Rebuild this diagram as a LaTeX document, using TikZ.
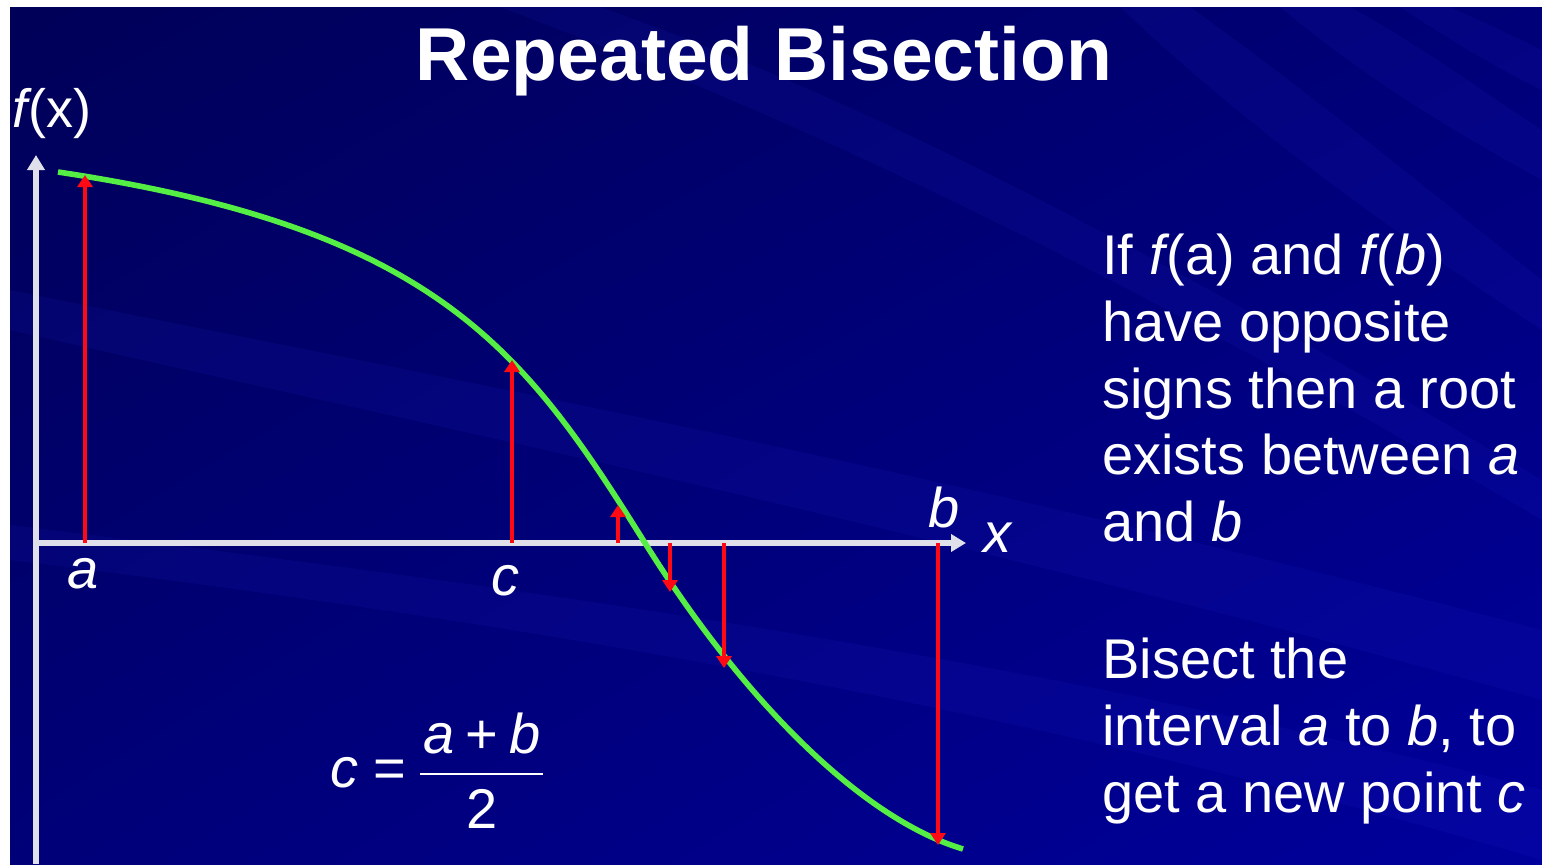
\documentclass[tikz,border=0pt]{standalone}
\usepackage{fontspec}
\setmainfont{Liberation Sans}
\usetikzlibrary{arrows.meta, shadings}
\definecolor{curvegreen}{HTML}{55EE44}
\definecolor{axisgrey}{HTML}{E0E0EA}
\definecolor{probered}{HTML}{FF0A14}
\definecolor{streakblue}{HTML}{3030E0}
\definecolor{bgdark}{HTML}{000058}
\definecolor{bgmid}{HTML}{000078}
\definecolor{bglight}{HTML}{00009C}

\begin{document}
\begin{tikzpicture}[x=0.5pt, y=-0.5pt,
  axis/.style={draw=axisgrey, line width=3pt, -{Triangle[length=7.5pt, width=8.5pt]}},
  probe/.style={draw=probered, line width=2pt, -{Triangle[length=6pt, width=7.5pt]}},
  curve/.style={draw=curvegreen, line width=2.8pt},
  lbl/.style={text=white, font=\fontsize{28}{33}\selectfont\itshape, inner sep=0pt, anchor=base},
  body/.style={text=white, font=\fontsize{28}{33.3}\selectfont, align=left, inner sep=0pt, anchor=north west},
  streak/.style={fill=streakblue, opacity=0.10},
]
\useasboundingbox (0,0) rectangle (1542,864);
\fill[white] (0,0) rectangle (1542,864);
% background
\shade[upper left=bgdark, upper right=bgmid, lower left=bgmid, lower right=bglight]
  (10,7) rectangle (1542,864);
\begin{scope}
\clip (10,7) rectangle (1542,864);
\fill[streak] (1120,7) .. controls (1260,140) and (1420,250) .. (1542,330)
  -- (1542,280) .. controls (1440,200) and (1320,100) .. (1190,7) -- cycle;
\fill[streak] (1280,7) .. controls (1380,90) and (1470,140) .. (1542,180)
  -- (1542,130) .. controls (1480,90) and (1420,45) .. (1350,7) -- cycle;
\fill[streak] (1400,7) .. controls (1450,40) and (1500,70) .. (1542,90)
  -- (1542,50) .. controls (1510,35) and (1480,20) .. (1450,7) -- cycle;
\fill[streak] (10,330) .. controls (400,420) and (900,520) .. (1542,700)
  -- (1542,630) .. controls (900,460) and (400,370) .. (10,290) -- cycle;
\fill[streak] (10,560) .. controls (500,620) and (1000,700) .. (1542,860)
  -- (1542,790) .. controls (1000,650) and (500,585) .. (10,525) -- cycle;
\fill[streak] (500,7) .. controls (800,120) and (1100,260) .. (1542,520)
  -- (1542,480) .. controls (1100,220) and (850,95) .. (600,7) -- cycle;
\end{scope}

% title
\node[text=white, font=\fontsize{37.5}{40}\selectfont\bfseries, anchor=base] (title) at (764,80) {Repeated Bisection};

% axes
\coordinate (origin) at (36,543);
\coordinate (ybot) at (36,864);
\coordinate (ytop) at (36,155);
\coordinate (xend) at (966,543);
\draw[axis] (ybot) -- (ytop);
\draw[axis] (origin) -- (xend);
\node[text=white, font=\fontsize{27}{33}\selectfont, inner sep=0pt, anchor=base west] (fx) at (12,127) {\textit{f}\kern-2pt(x)};
\node[lbl] (xlbl) at (997,552) {x};

% function
\coordinate (root) at (645,543);
\draw[curve] (58,172) .. controls (438,229) and (525,351) .. (root)
  .. controls (745,703) and (863,819) .. (963,849);

% bisection probes
\coordinate (pa) at (85,543);   \coordinate (fa) at (85,175);
\coordinate (pc1) at (512,543); \coordinate (fc1) at (512,360);
\coordinate (pc2) at (618,543); \coordinate (fc2) at (618,505);
\coordinate (pc3) at (670,543); \coordinate (fc3) at (670,592);
\coordinate (pc4) at (724,543); \coordinate (fc4) at (724,668);
\coordinate (pb) at (938,543);  \coordinate (fb) at (938,845);
\draw[probe] (pa) -- (fa);
\draw[probe] (pc1) -- (fc1);
\draw[probe] (pc2) -- (fc2);
\draw[probe] (pc3) -- (fc3);
\draw[probe] (pc4) -- (fc4);
\draw[probe] (pb) -- (fb);

\node[lbl] (alb) at (83,588) {a};
\node[lbl] (clb) at (505,595) {c};
\node[lbl] (blb) at (944,527) {b};

% midpoint formula
\node[text=white, font=\fontsize{28}{33}\selectfont, inner sep=0pt, anchor=base west] (ceq) at (330,787) {\textit{c} =};
\node[text=white, font=\fontsize{28}{33}\selectfont, inner sep=0pt, anchor=base] (num) at (482,753) {\textit{a}\hspace{5.5pt}+\hspace{5.5pt}\textit{b}};
\node[text=white, font=\fontsize{28}{33}\selectfont, inner sep=0pt, anchor=base] (den) at (482,828) {2};
\coordinate (barl) at (420,774);
\coordinate (barr) at (543,774);
\draw[white, line width=1.3pt] (barl) -- (barr);

% explanation
\node[body] (cond) at (1102,234) {If \textit{f}\kern-1.5pt(a) and \textit{f}\kern-1.5pt(\textit{b})\\have opposite\\signs then a root\\exists between \textit{a}\\and \textit{b}};
\node[body] (step) at (1102,638) {Bisect the\\interval \textit{a} to \textit{b}, to\\get a new point \textit{c}};
\end{tikzpicture}
\end{document}
